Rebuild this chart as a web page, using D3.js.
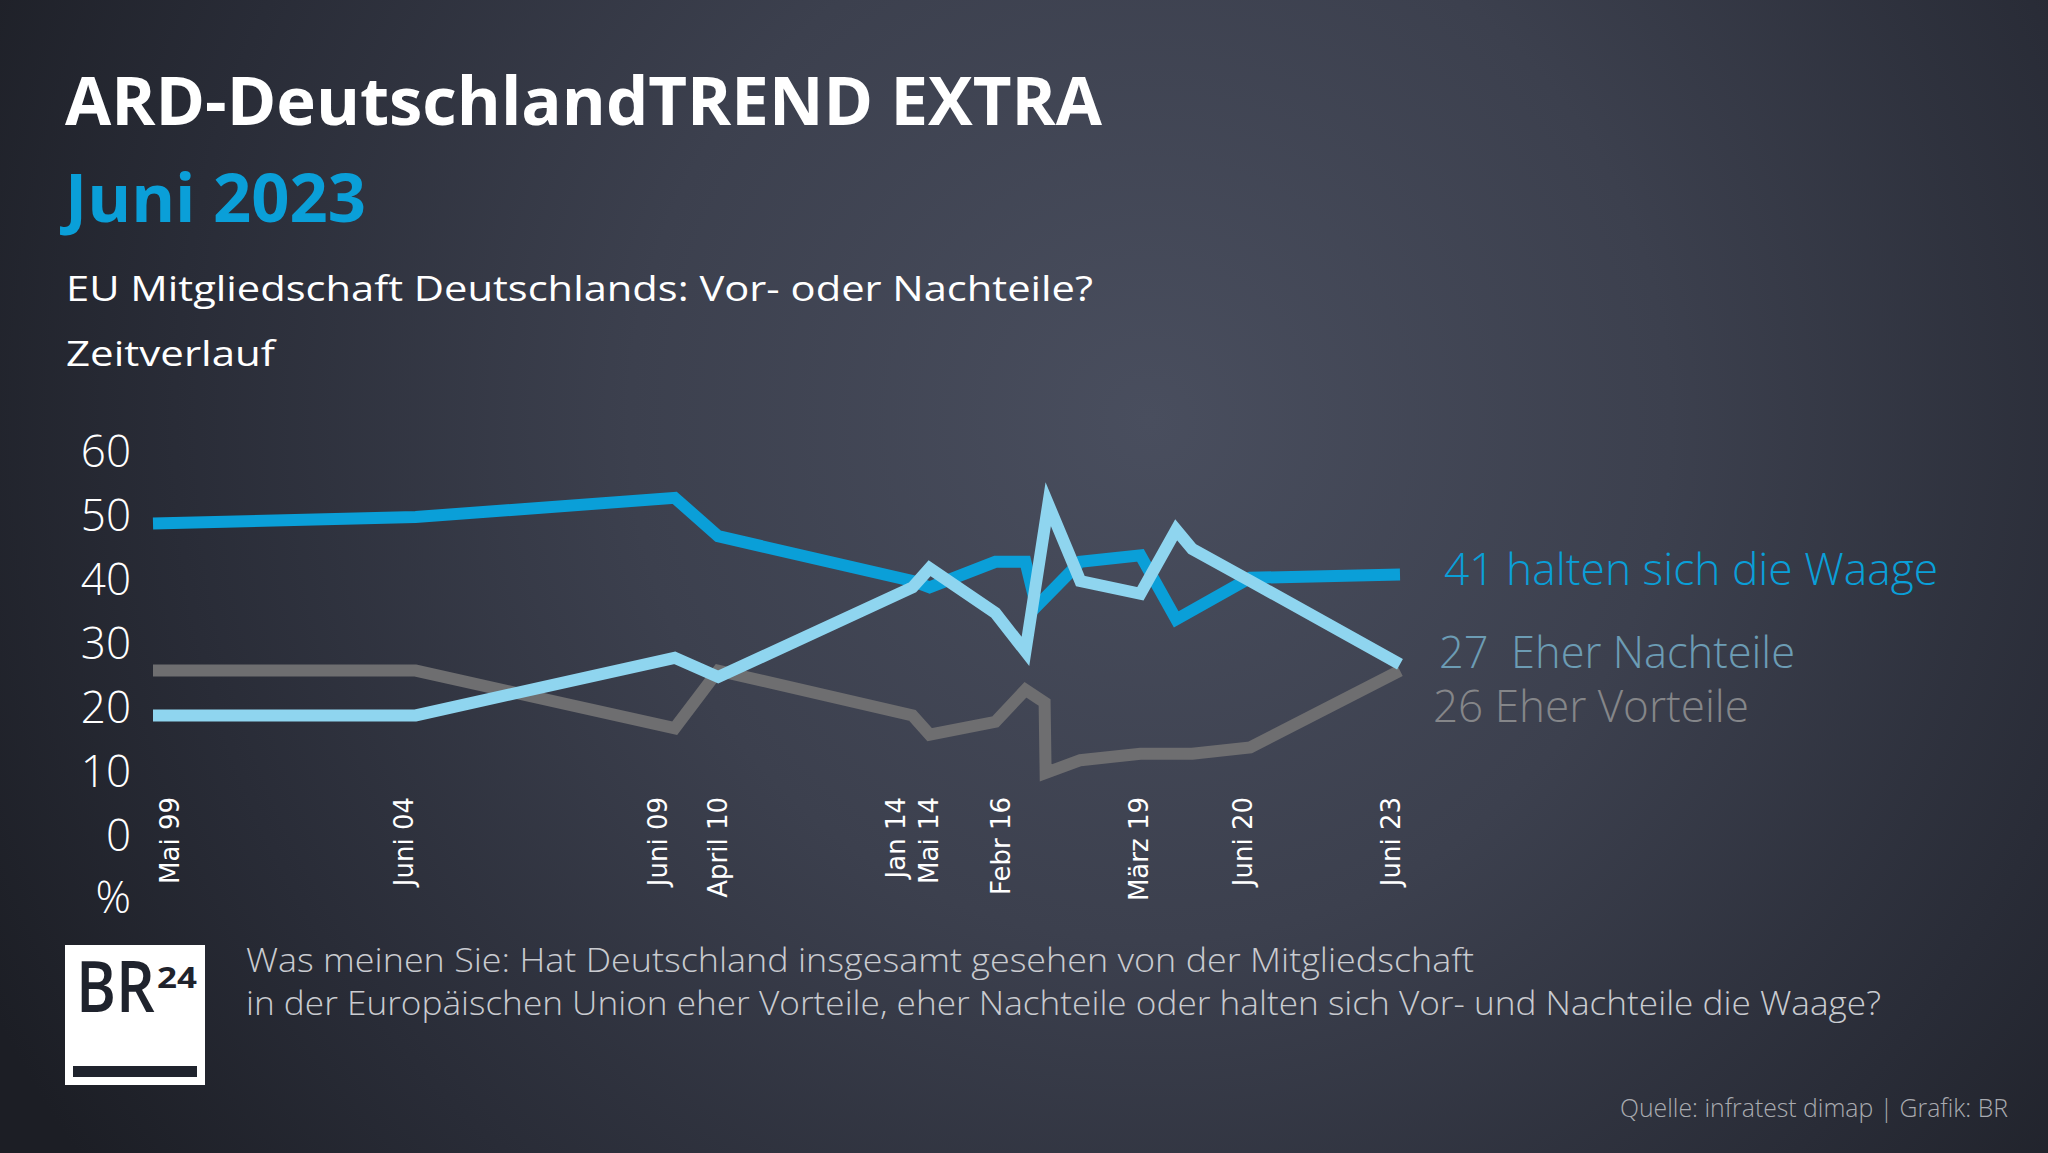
<!DOCTYPE html>
<html><head><meta charset="utf-8">
<script src="https://cdn.jsdelivr.net/npm/d3@7"></script>
<style>html,body{margin:0;padding:0;background:#1c1e25;}svg{display:block;}</style>
</head><body>
<script>
// ---- data ----
const surveyDates = [1999.38, 2004.45, 2009.45, 2010.29, 2014.04, 2014.37, 2015.64, 2016.22, 2016.43, 2016.59, 2016.61, 2016.66, 2017.28, 2018.44, 2019.13, 2019.44, 2020.56, 2023.45];
const waage     = [49, 50, 53, 47, 40, 39, 43, 43, 36, null, null, null, 43, 44, 34, null, 40.5, 41];
const nachteile = [19, 19, 28, 25, 39, 42, 35, 29, null, null, null, 52, 40, 38, 48, 45, 40, 27];
const vorteile  = [26, 26, 17, 26, 19, 16, 18, 23, null, 21, 10, null, 12, 13, null, 13, 14, 26];
const xTickLabels = ["Mai 99", "Juni 04", "Juni 09", "April 10", "Jan 14", "Mai 14", "Febr 16", "März 19", "Juni 20", "Juni 23"];
const xTickDates  = [1999.69, 2004.20, 2009.12, 2010.27, 2013.70, 2014.34, 2015.73, 2018.40, 2020.40, 2023.26];
const yTicks = [0, 10, 20, 30, 40, 50, 60];
const seriesNames = ["41 halten sich die Waage", "27\u00a0 Eher Nachteile", "26 Eher Vorteile"];

const W = 2048, H = 1153;
const svg = d3.select("body").append("svg").attr("width", W).attr("height", H);
const defs = svg.append("defs");
const rg = defs.append("radialGradient").attr("id", "bg").attr("gradientUnits", "userSpaceOnUse")
  .attr("cx", 1150).attr("cy", 420).attr("r", 1300);
[[0, "#494e5e"], [0.4, "#3c404e"], [0.75, "#292c37"], [1, "#1c1e25"]].forEach(([o, c]) =>
  rg.append("stop").attr("offset", o).attr("stop-color", c));
svg.append("rect").attr("width", W).attr("height", H).attr("fill", "url(#bg)");

const FONT = "'Open Sans', 'Noto Sans', sans-serif";
function txt(s, x, y, size, weight, color, len, anchor) {
  const t = svg.append("text").attr("x", x).attr("y", y).text(s)
    .attr("font-family", FONT).attr("font-size", size).attr("font-weight", weight)
    .attr("fill", color).style("white-space", "pre");
  if (anchor) t.attr("text-anchor", anchor);
  if (len) t.attr("textLength", len).attr("lengthAdjust", "spacingAndGlyphs");
  return t;
}

// titles
txt("ARD-DeutschlandTREND EXTRA", 65, 125, 66, 700, "#ffffff", 1037);
txt("Juni 2023", 65, 222, 66, 700, "#0a9fd8", 301);
txt("EU Mitgliedschaft Deutschlands: Vor- oder Nachteile?", 66, 301, 35, 400, "#ffffff", 1027);
txt("Zeitverlauf", 66, 366, 35, 400, "#ffffff", 209);

// scales
const x = d3.scaleLinear().domain([1999.38, 2023.45]).range([153, 1400]);
const y = d3.scaleLinear().domain([0, 60]).range([837, 453]);

// y axis labels
const yAxis = d3.axisLeft(y).tickValues(yTicks).tickSize(0).tickPadding(0);
const yg = svg.append("g").attr("transform", "translate(131,-2)").call(yAxis);
yg.select(".domain").remove();
yg.selectAll("text").attr("font-family", FONT).attr("font-size", 44).attr("font-weight", 300)
  .attr("fill", "#ffffff").attr("dy", "0.36em");
txt("%", 131, 913, 44, 300, "#ffffff", null, "end");

// x axis labels (rotated)
const xAxis = d3.axisBottom(x).tickValues(xTickDates).tickFormat((d, i) => xTickLabels[i]).tickSize(0).tickPadding(0);
const xg = svg.append("g").attr("transform", "translate(0,797)").call(xAxis);
xg.select(".domain").remove();
xg.selectAll(".tick text").attr("font-family", "'DejaVu Sans', Verdana, sans-serif").attr("font-size", 26).attr("font-weight", 400)
  .attr("fill", "#ffffff").attr("transform", "rotate(-90)").attr("text-anchor", "end")
  .attr("x", 0).attr("y", 0).attr("dy", "0.36em");

// lines
const line = d3.line().x(d => x(d.date)).y(d => y(d.v));
function series(vals) { return surveyDates.map((d, i) => ({date: d, v: vals[i]})).filter(d => d.v != null); }
const lineData = [
  {vals: vorteile, color: "#6e6e70"},
  {vals: waage, color: "#0a9fd8"},
  {vals: nachteile, color: "#8fd5ef"}
];
svg.append("g").selectAll("path").data(lineData).join("path")
  .attr("d", d => line(series(d.vals))).attr("fill", "none").attr("stroke", d => d.color)
  .attr("stroke-width", 12).attr("stroke-linejoin", "miter").attr("stroke-miterlimit", 12);

// end labels
txt(seriesNames[0], 1444, 585, 44, 300, "#0a9fd8", 494);
txt(seriesNames[1], 1439, 668, 44, 300, "#6c9cb4", 356);
txt(seriesNames[2], 1433, 722, 44, 300, "#858689", 316);

// logo
svg.append("rect").attr("x", 65).attr("y", 945).attr("width", 140).attr("height", 140).attr("fill", "#ffffff");
txt("BR", 76, 1012, 70, 600, "#1f232d", 79);
txt("24", 157, 988, 28, 700, "#1f232d", 40);
svg.append("rect").attr("x", 73).attr("y", 1066).attr("width", 124).attr("height", 11).attr("fill", "#1f232d");

// question
txt("Was meinen Sie: Hat Deutschland insgesamt gesehen von der Mitgliedschaft", 246, 972, 33, 300, "#c9cbd0", 1228);
txt("in der Europäischen Union eher Vorteile, eher Nachteile oder halten sich Vor- und Nachteile die Waage?", 246, 1015, 33, 300, "#c9cbd0", 1635);
txt("Quelle: infratest dimap | Grafik: BR", 2008, 1117, 26, 300, "#a9abb0", 388, "end");
</script>
</body></html>
